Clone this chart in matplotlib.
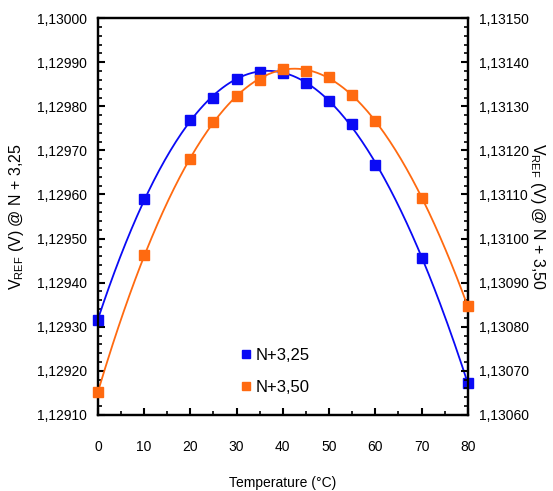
import numpy as np
import matplotlib
matplotlib.use("Agg")
import matplotlib.pyplot as plt
from matplotlib.ticker import MultipleLocator, FuncFormatter

plt.rcParams['font.family'] = ['Liberation Sans', 'DejaVu Sans']
plt.rcParams['mathtext.fontset'] = 'custom'
plt.rcParams['mathtext.rm'] = 'Liberation Sans'

# data
temps = [0, 10, 20, 25, 30, 35, 40, 45, 50, 55, 60, 70, 80]
vref_325 = [1.129315, 1.129590, 1.129769, 1.129820, 1.129861, 1.129879, 1.129876,
            1.129854, 1.129813, 1.129760, 1.129668, 1.129455, 1.129173]
vref_350 = [1.130651, 1.130963, 1.131180, 1.131265, 1.131323, 1.131360, 1.131385,
            1.131381, 1.131366, 1.131326, 1.131267, 1.131091, 1.130847]
labels = ["N+3,25", "N+3,50"]

blue = "#0a0af5"
orange = "#ff6a10"

def comma_fmt(v, pos):
    return f"{v:.5f}".replace(".", ",")

fig = plt.figure(figsize=(5.53, 4.91), dpi=100)
ax = fig.add_axes([0.177, 0.155, 0.669, 0.808])
ax2 = ax.twinx()

# smooth trend curves (polynomial fit of the measured points)
xs = np.linspace(0, 80, 200)
fit1 = np.polyval(np.polyfit(temps, vref_325, 4), xs)
fit2 = np.polyval(np.polyfit(temps, vref_350, 4), xs)

ax.plot(xs, fit1, color=blue, lw=1.3)
h1, = ax.plot(temps, vref_325, ls="none", marker="s", ms=6.8, color=blue,
              clip_on=False, zorder=5)
ax2.plot(xs, fit2, color=orange, lw=1.3)
h2, = ax2.plot(temps, vref_350, ls="none", marker="s", ms=6.8, color=orange,
               clip_on=False, zorder=5)

ax.set_xlim(0, 80)
ax.set_ylim(1.12910, 1.13000)
ax2.set_ylim(1.13060, 1.13150)

ax.xaxis.set_major_locator(MultipleLocator(10))
ax.xaxis.set_minor_locator(MultipleLocator(5))
for a in (ax, ax2):
    a.yaxis.set_major_locator(MultipleLocator(0.0001))
    a.yaxis.set_minor_locator(MultipleLocator(0.00002))
    a.yaxis.set_major_formatter(FuncFormatter(comma_fmt))
    for s in a.spines.values():
        s.set_linewidth(1.6)

ax.tick_params(axis="both", which="major", direction="in", length=5, width=1.5,
               labelsize=10, pad=8)
ax.tick_params(axis="both", which="minor", direction="in", length=3, width=1.2)
ax.tick_params(axis="x", which="both", top=False)
ax.tick_params(axis="x", which="major", pad=18)
ax2.tick_params(axis="y", which="major", direction="in", length=5, width=1.5,
                labelsize=10, pad=8)
ax2.tick_params(axis="y", which="minor", direction="in", length=3, width=1.2)

ax.set_xlabel("Temperature (°C)", fontsize=10, labelpad=16)
ax.set_ylabel(r"V$_{\mathregular{REF}}$ (V) @ N + 3,25", fontsize=11.5, labelpad=8)
ax2.set_ylabel(r"V$_{\mathregular{REF}}$ (V) @ N + 3,50", fontsize=11.5,
               rotation=270, labelpad=13)

ax2.legend([h1, h2], labels, loc="center", bbox_to_anchor=(0.48, 0.11),
           frameon=False, fontsize=12, handlelength=0.6, handletextpad=0.3,
           labelspacing=1.0, markerscale=0.9)

fig.savefig("out.png", dpi=100)
